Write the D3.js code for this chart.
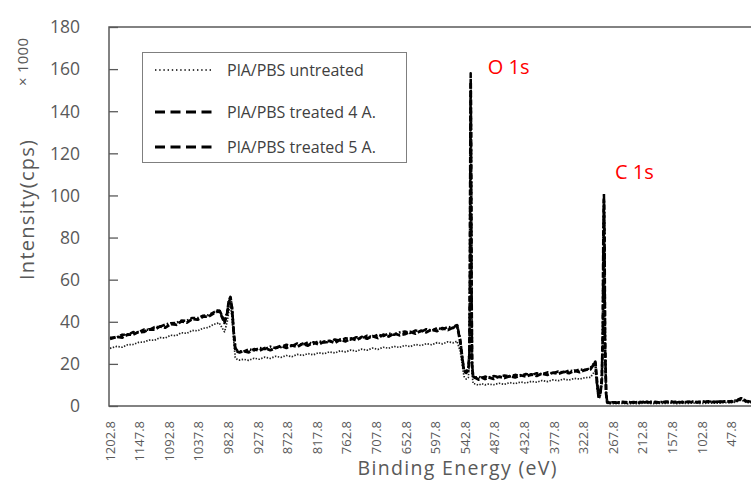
<!DOCTYPE html>
<html>
<head>
<meta charset="utf-8">
<script src="https://cdn.jsdelivr.net/npm/d3@7"></script>
<style>
  html, body { margin: 0; padding: 0; background: #fff; }
  svg { display: block; font-family: "Open Sans", "Noto Sans", sans-serif; }
</style>
</head>
<body>
<svg id="chart" width="751" height="481"></svg>
<script>
// XPS survey spectra: binding energy (eV) vs intensity (cps / 1000)
const energy = [
  1202.8, 1190, 1180, 1170, 1160, 1150, 1140, 1130, 1120, 1110, 1100, 1090, 1080, 1070, 1060, 1050, 1040, 1030, 1020, 1010, 1000, 990,
  985, 982, 979, 976, 973, 970, 966, 962,
  955, 945, 935, 925, 915, 905, 895, 885, 875, 865, 855, 845, 835, 825, 815, 805, 795, 785, 775, 765,
  755, 745, 735, 725, 715, 705, 695, 685, 675, 665, 655, 645, 635, 625, 615, 605, 595, 585, 575, 565,
  558, 552, 548, 545, 541, 537, 535, 534, 533, 532.6, 532, 531, 530, 528,
  524, 518, 512, 506, 500, 490, 480, 470, 460, 450, 440, 430, 420, 410, 400, 390, 380, 370, 360, 350, 340, 330, 320, 310,
  305, 301, 298, 295, 292, 289, 287, 286, 285, 284, 283, 281, 279, 275, 270,
  260, 250, 240, 230, 220, 210, 200, 190, 180, 170, 160, 150, 140, 130, 120, 110, 100, 90, 80, 70, 60, 50, 40, 30, 20, 10, 0
];

const untreated = [
  27.4, 28.3, 27.9, 29.1, 29.2, 30.2, 30.4, 31.3, 31.2, 32.5, 32.3, 33.6, 33.4, 34.8, 34.5, 35.9, 35.7, 36.9, 37.3, 38.8, 39.5, 35.2,
  40.0, 45.0, 47.5, 42.0, 31.0, 23.0, 22.0, 21.8,
  22.2, 21.7, 22.7, 22.2, 23.2, 22.6, 23.6, 23.1, 24.0, 23.4, 24.5, 24.0, 24.9, 24.3, 25.3, 24.8, 25.7, 25.2, 26.2, 25.7,
  26.6, 26.0, 27.0, 26.5, 27.5, 26.9, 27.9, 27.4, 28.3, 27.8, 28.8, 28.2, 29.2, 28.7, 29.6, 29.1, 30.1, 29.5, 30.5, 30.0,
  30.8, 26.0, 19.0, 14.0, 12.8, 13.5, 20.0, 52.0, 125.0, 146.0, 118.0, 46.0, 15.0, 10.6,
  10.5, 9.9, 10.6, 10.0, 10.4, 10.1, 10.8, 10.3, 11.1, 10.6, 11.4, 10.9, 11.7, 11.3, 12.1, 11.6, 12.4, 12.0, 12.8, 12.3, 13.1, 12.8, 13.5, 13.6,
  15.5, 16.5, 9.0, 3.5, 4.2, 10.0, 30.0, 74.0, 92.0, 72.0, 26.0, 5.0, 1.3, 1.1, 1.2,
  1.1, 1.3, 1.0, 1.2, 1.1, 1.4, 1.2, 1.1, 1.3, 1.2, 1.4, 1.1, 1.3, 1.2, 1.4, 1.3, 1.2, 1.5, 1.3, 1.4, 1.6, 1.5, 1.9, 2.8, 1.7, 1.4, 1.1
];

const treated4A = [
  31.8, 32.9, 32.5, 34.0, 33.9, 35.1, 35.2, 36.4, 36.3, 37.8, 37.2, 38.9, 38.6, 40.2, 39.6, 41.3, 41.0, 42.4, 42.5, 44.0, 45.3, 39.5,
  44.0, 50.0, 51.8, 46.0, 35.0, 27.0, 25.8, 25.5,
  26.0, 25.5, 27.0, 26.3, 27.5, 26.5, 27.6, 28.5, 27.6, 28.8, 28.1, 29.6, 28.7, 30.2, 29.3, 30.6, 30.9, 30.0, 31.6, 30.7,
  32.1, 31.2, 32.8, 32.0, 33.2, 32.3, 33.9, 33.0, 34.5, 33.6, 34.1, 35.2, 34.4, 35.8, 35.0, 36.3, 35.6, 37.0, 36.1, 37.3,
  38.4, 30.5, 22.0, 16.5, 15.8, 17.0, 24.0, 60.0, 135.0, 154.0, 128.0, 52.0, 19.0, 13.6,
  13.4, 12.6, 13.5, 12.8, 13.6, 12.9, 13.9, 13.3, 14.2, 13.6, 14.6, 14.0, 15.0, 14.3, 15.4, 14.8, 15.8, 15.3, 16.2, 15.6, 16.8, 16.1, 17.2, 17.4,
  19.4, 21.0, 12.0, 4.5, 5.5, 12.0, 35.0, 80.0, 98.0, 78.0, 30.0, 6.0, 1.8, 1.5, 1.6,
  1.6, 1.9, 1.5, 1.8, 1.6, 2.0, 1.7, 1.9, 1.6, 2.1, 1.8, 1.9, 1.7, 2.0, 1.8, 1.9, 2.1, 1.8, 2.0, 1.9, 2.2, 2.0, 2.4, 3.4, 2.2, 1.9, 1.5
];

const treated5A = [
  32.4, 32.6, 33.9, 33.7, 35.1, 35.0, 36.3, 36.2, 37.5, 37.6, 38.7, 39.3, 39.4, 40.6, 40.5, 41.8, 41.7, 42.9, 43.1, 44.5, 45.8, 40.3,
  44.5, 49.5, 51.2, 46.8, 36.0, 27.6, 26.2, 26.0,
  25.8, 26.9, 26.4, 27.6, 27.0, 28.2, 27.5, 28.0, 29.1, 28.4, 29.7, 29.0, 30.2, 29.5, 30.8, 30.1, 30.5, 31.6, 31.0, 32.2,
  31.5, 32.7, 32.1, 33.4, 32.7, 33.9, 33.2, 34.5, 33.8, 34.9, 35.4, 34.7, 35.9, 35.2, 36.5, 35.8, 37.0, 36.4, 37.6, 37.0,
  38.8, 31.5, 23.0, 17.0, 16.2, 18.0, 26.0, 65.0, 140.0, 158.0, 132.0, 55.0, 20.0, 14.0,
  13.5, 13.9, 13.3, 14.0, 13.5, 14.2, 13.7, 14.5, 14.0, 14.8, 14.3, 15.2, 14.7, 15.6, 15.1, 16.0, 15.5, 16.4, 15.9, 16.9, 16.4, 17.4, 17.0, 18.0,
  19.8, 20.5, 11.0, 4.0, 5.0, 13.0, 38.0, 84.0, 101.0, 82.0, 32.0, 6.5, 2.0, 1.7, 1.8,
  1.8, 1.7, 1.9, 1.6, 2.0, 1.8, 2.1, 1.7, 1.9, 1.8, 2.2, 1.7, 2.0, 1.9, 2.1, 1.8, 2.0, 2.2, 1.9, 2.1, 2.0, 2.3, 2.6, 3.7, 2.4, 2.0, 1.6
];

const seriesNames = ["PlA/PBS untreated", "PlA/PBS treated 4 A.", "PlA/PBS treated 5 A."];
const xTickLabels = ["1202.8", "1147.8", "1092.8", "1037.8", "982.8", "927.8", "872.8", "817.8", "762.8", "707.8", "652.8",
                     "597.8", "542.8", "487.8", "432.8", "377.8", "322.8", "267.8", "212.8", "157.8", "102.8", "47.8"];
const yTicks = [0, 20, 40, 60, 80, 100, 120, 140, 160, 180];
const peakLabels = [
  { text: "O 1s", energy: 532.6, value: 158 },
  { text: "C 1s", energy: 285, value: 101 }
];

const svg = d3.select("#chart");
const plot = { left: 109, top: 27, right: 760, bottom: 406 };

const x = d3.scaleLinear().domain([1202.8, 47.8]).range([110, 731.6]);
const y = d3.scaleLinear().domain([0, 180]).range([plot.bottom, plot.top]);

const rows = energy.map((e, i) => ({ e, v: [untreated[i], treated4A[i], treated5A[i]] }));

const styles = [
  { width: 1.7, dash: "1.4,1.5", color: "#222" },
  { width: 2.8, dash: "6,2.2", color: "#000" },
  { width: 2.5, dash: "5,2,1.6,2", color: "#000" }
];

svg.append("defs").append("clipPath").attr("id", "plotClip")
  .append("rect")
  .attr("x", plot.left).attr("y", plot.top - 2)
  .attr("width", plot.right - plot.left).attr("height", plot.bottom - plot.top + 2);

// spectra
const lines = svg.append("g").attr("clip-path", "url(#plotClip)");
seriesNames.forEach((name, k) => {
  const line = d3.line().x(d => x(d.e)).y(d => y(d.v[k]));
  lines.append("path")
    .datum(rows)
    .attr("fill", "none")
    .attr("stroke", styles[k].color)
    .attr("stroke-width", styles[k].width)
    .attr("stroke-dasharray", styles[k].dash)
    .attr("stroke-linejoin", "round")
    .attr("d", line);
});

// plot frame
const axisColor = "#595959";
svg.append("path")
  .attr("d", `M${plot.right},${plot.top}H${plot.left}V${plot.bottom}H${plot.right}`)
  .attr("fill", "none").attr("stroke", axisColor).attr("stroke-width", 1.5);

// y axis (inward ticks)
const yAxis = d3.axisRight(y).tickValues(yTicks).tickSize(9).tickFormat("");
svg.append("g").attr("transform", `translate(${plot.left},0)`).call(yAxis)
  .call(g => g.select(".domain").remove())
  .call(g => g.selectAll("line").attr("stroke", axisColor).attr("stroke-width", 1.3));

svg.append("g").selectAll("text").data(yTicks).join("text")
  .attr("x", 80).attr("y", d => y(d)).attr("dy", "0.36em")
  .attr("text-anchor", "end")
  .attr("font-size", 17.5).attr("fill", axisColor)
  .text(d => d);

// x tick labels (category style, rotated)
svg.append("g").selectAll("text").data(xTickLabels).join("text")
  .attr("transform", d => `translate(${x(+d)},421) rotate(-90)`)
  .attr("dy", "0.36em")
  .attr("text-anchor", "end")
  .attr("font-size", 13).attr("fill", axisColor)
  .text(d => d);

// axis titles
svg.append("text")
  .attr("transform", "translate(34,210) rotate(-90)")
  .attr("text-anchor", "middle")
  .attr("font-size", 20).attr("fill", axisColor)
  .attr("textLength", 140).attr("lengthAdjust", "spacing")
  .text("Intensity(cps)");

svg.append("text")
  .attr("transform", "translate(28,62) rotate(-90)")
  .attr("text-anchor", "middle")
  .attr("font-size", 15).attr("fill", axisColor)
  .attr("textLength", 48).attr("lengthAdjust", "spacing")
  .text("× 1000");

svg.append("text")
  .attr("x", 457).attr("y", 475)
  .attr("text-anchor", "middle")
  .attr("font-size", 19.5).attr("fill", axisColor)
  .attr("textLength", 199).attr("lengthAdjust", "spacing")
  .text("Binding Energy (eV)");

// peak annotations
const peakLabelOffset = [[17, 1], [11, -14]];
svg.append("g").selectAll("text").data(peakLabels).join("text")
  .attr("x", (d, i) => x(d.energy) + peakLabelOffset[i][0])
  .attr("y", (d, i) => y(d.value) + peakLabelOffset[i][1])
  .attr("font-size", 20).attr("fill", "#ff0000")
  .text(d => d.text);

// legend
const legend = svg.append("g");
legend.append("rect")
  .attr("x", 142.5).attr("y", 52.5).attr("width", 264).attr("height", 110)
  .attr("fill", "#fff").attr("stroke", "#7f7f7f").attr("stroke-width", 1);
const legendRowY = [70, 112, 147];
const legendDash = ["1.4,2.8", "10,5.5", "10,5.5"];
seriesNames.forEach((name, k) => {
  legend.append("line")
    .attr("x1", 155).attr("x2", 213)
    .attr("y1", legendRowY[k]).attr("y2", legendRowY[k])
    .attr("stroke", "#000")
    .attr("stroke-width", k === 0 ? 1.5 : 3)
    .attr("stroke-dasharray", legendDash[k]);
  legend.append("text")
    .attr("x", 227).attr("y", legendRowY[k]).attr("dy", "0.36em")
    .attr("font-size", 16).attr("fill", "#404040")
    .text(name);
});
</script>
</body>
</html>
